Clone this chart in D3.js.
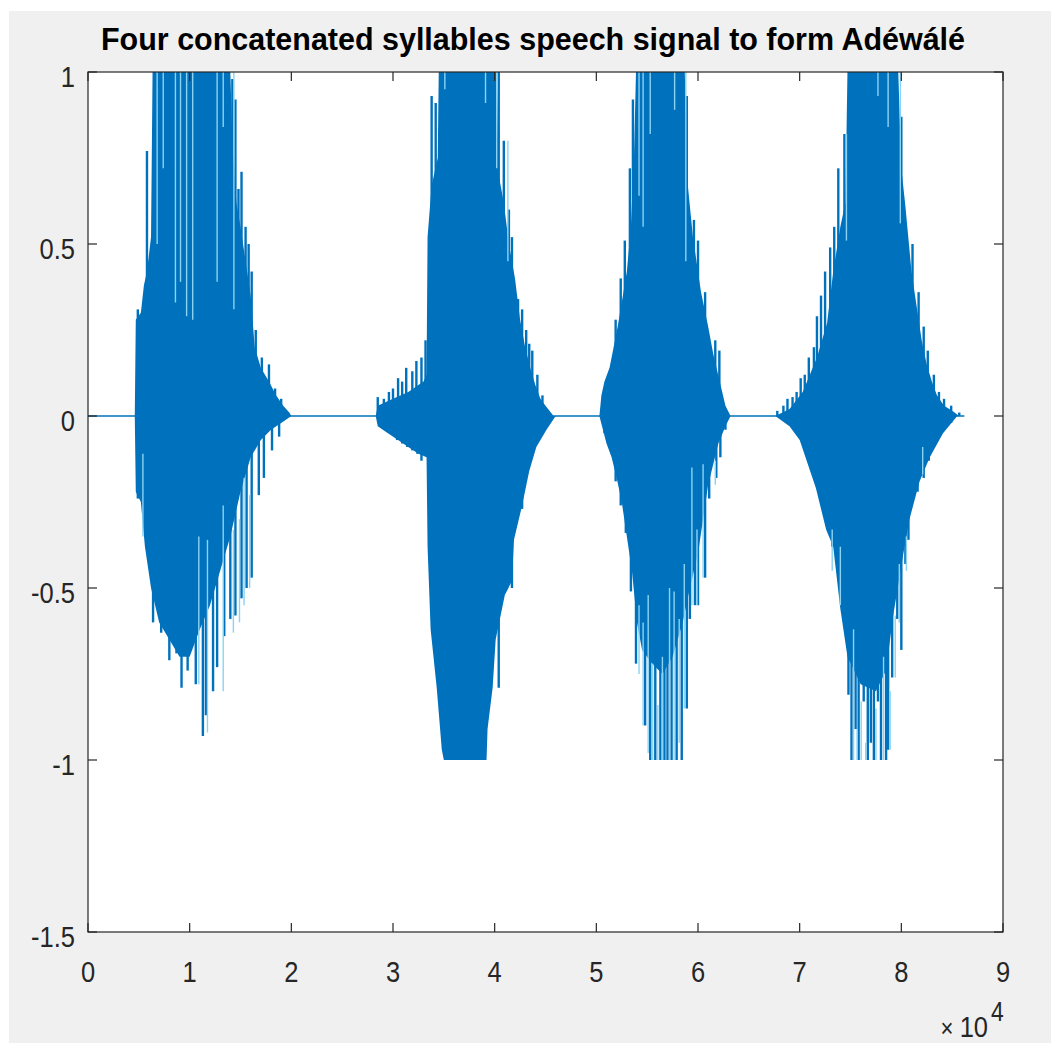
<!DOCTYPE html>
<html><head><meta charset="utf-8">
<script src="https://cdn.jsdelivr.net/npm/d3@7"></script>
<style>html,body{margin:0;padding:0;background:#fff;}svg{display:block;}</style>
</head><body>
<script>
// ---- data (x in units of 1e4 samples, y amplitude) ----
const titleText = "Four concatenated syllables speech signal to form Adéwálé";
const xTicks = [0,1,2,3,4,5,6,7,8,9];
const yTicks = [-1.5,-1,-0.5,0,0.5,1];
const yTickLabels = ["-1.5","-1","-0.5","0","0.5","1"];
const signalEnd = 8.62;

const bodyUpper = [[0,0],[0.46,0],[0.47,0.28],[0.52,0.30],[0.55,0.38],[0.58,0.42],[0.62,0.52],[0.635,1.0],[1.40,1.0],[1.42,0.80],[1.46,0.62],[1.50,0.55],[1.55,0.45],[1.60,0.35],[1.64,0.20],[1.70,0.14],[1.78,0.10],[1.85,0.06],[1.92,0.03],[1.98,0.01],[2.0,0],
[2.83,0],[2.85,0.03],[3.0,0.05],[3.15,0.07],[3.30,0.10],[3.33,0.12],[3.34,0.52],[3.38,0.67],[3.44,0.75],[3.45,1.0],[4.02,1.0],[4.04,0.70],[4.09,0.62],[4.14,0.50],[4.20,0.40],[4.25,0.28],[4.30,0.20],[4.35,0.14],[4.40,0.09],[4.45,0.05],[4.50,0.03],[4.58,0],
[5.03,0],[5.05,0.06],[5.08,0.10],[5.13,0.14],[5.17,0.20],[5.21,0.26],[5.25,0.33],[5.30,0.42],[5.34,0.55],[5.37,0.75],[5.39,1.0],[5.87,1.0],[5.90,0.67],[5.95,0.52],[6.03,0.36],[6.10,0.26],[6.15,0.18],[6.23,0.08],[6.27,0.03],[6.32,0],
[6.76,0],[6.90,0.02],[7.03,0.07],[7.17,0.17],[7.27,0.27],[7.33,0.42],[7.40,0.55],[7.45,0.62],[7.47,1.0],[7.97,1.0],[8.00,0.72],[8.04,0.61],[8.10,0.42],[8.15,0.32],[8.20,0.22],[8.25,0.15],[8.30,0.10],[8.35,0.06],[8.42,0.03],[8.50,0.015],[8.57,0]];

const bodyLower = [[0,0],[0.46,0],[0.47,-0.22],[0.52,-0.25],[0.56,-0.38],[0.62,-0.50],[0.70,-0.60],[0.80,-0.65],[0.90,-0.70],[1.0,-0.70],[1.10,-0.62],[1.20,-0.55],[1.30,-0.45],[1.40,-0.35],[1.50,-0.22],[1.60,-0.12],[1.70,-0.07],[1.80,-0.04],[1.90,-0.02],[2.0,0],
[2.83,0],[2.85,-0.03],[2.95,-0.05],[3.05,-0.07],[3.15,-0.09],[3.25,-0.11],[3.33,-0.12],[3.34,-0.38],[3.37,-0.62],[3.43,-0.79],[3.48,-0.97],[3.50,-1.0],[3.92,-1.0],[3.93,-0.91],[3.98,-0.79],[4.01,-0.65],[4.10,-0.52],[4.17,-0.48],[4.19,-0.36],[4.27,-0.26],[4.34,-0.16],[4.41,-0.09],[4.51,-0.04],[4.60,0],
[5.03,0],[5.10,-0.08],[5.15,-0.12],[5.20,-0.18],[5.25,-0.25],[5.30,-0.35],[5.35,-0.45],[5.40,-0.60],[5.45,-0.68],[5.55,-0.72],[5.65,-0.75],[5.75,-0.70],[5.85,-0.60],[5.92,-0.50],[6.00,-0.40],[6.05,-0.30],[6.10,-0.20],[6.15,-0.14],[6.20,-0.08],[6.27,-0.03],[6.32,0],
[6.76,0],[6.90,-0.03],[7.00,-0.07],[7.16,-0.21],[7.26,-0.33],[7.33,-0.38],[7.40,-0.56],[7.47,-0.70],[7.60,-0.78],[7.75,-0.80],[7.85,-0.74],[7.92,-0.58],[8.02,-0.40],[8.08,-0.30],[8.18,-0.19],[8.28,-0.12],[8.41,-0.05],[8.55,0]];

const spikesUp = [[0.49,0.31],[0.58,0.77],[0.61,0.45],[1.42,0.98],[1.45,0.92],[1.48,0.66],[1.51,0.71],[1.55,0.55],[1.58,0.50],[1.61,0.42],[1.65,0.25],[1.71,0.17],[1.78,0.15],[1.84,0.08],[1.90,0.05],
[2.85,0.055],[2.91,0.05],[2.96,0.07],[3.00,0.08],[3.05,0.11],[3.09,0.10],[3.13,0.14],[3.19,0.13],[3.23,0.16],[3.28,0.17],[3.32,0.22],
[3.38,0.93],[3.42,0.91],[4.04,1.0],[4.09,0.80],[4.14,0.60],[4.17,0.52],[4.23,0.34],[4.27,0.31],[4.31,0.25],[4.34,0.21],[4.37,0.19],[4.42,0.12],[4.47,0.06],
[5.19,0.28],[5.24,0.40],[5.28,0.51],[5.33,0.72],[5.36,0.92],[5.89,0.93],[5.96,0.57],[6.00,0.51],[6.07,0.36],[6.17,0.22],[6.21,0.19],
[6.78,0.015],[6.84,0.03],[6.88,0.05],[6.93,0.055],[6.97,0.07],[7.01,0.11],[7.05,0.12],[7.09,0.17],[7.14,0.20],[7.17,0.29],[7.21,0.35],[7.25,0.42],[7.30,0.49],[7.34,0.55],[7.38,0.72],[7.44,0.82],
[8.00,0.87],[8.11,0.50],[8.17,0.36],[8.22,0.26],[8.26,0.19],[8.32,0.12],[8.37,0.07],[8.42,0.05],[8.49,0.03],[8.57,0.01]];

const spikesDown = [[0.49,-0.24],[0.58,-0.38],[0.64,-0.60],[0.72,-0.63],[0.80,-0.71],[0.87,-0.69],[0.92,-0.79],[0.98,-0.74],[1.06,-0.78],[1.13,-0.93],[1.16,-0.87],[1.23,-0.80],[1.27,-0.73],[1.34,-0.64],[1.40,-0.59],[1.45,-0.58],[1.51,-0.53],[1.56,-0.50],[1.61,-0.47],[1.68,-0.23],[1.73,-0.18],[1.81,-0.10],[1.88,-0.06],
[2.88,-0.03],[2.95,-0.04],[2.99,-0.05],[3.04,-0.07],[3.09,-0.08],[3.14,-0.09],[3.19,-0.10],[3.24,-0.11],[3.28,-0.13],
[3.45,-0.77],[4.04,-0.79],[4.10,-0.51],[4.17,-0.50],[4.27,-0.27],
[5.08,-0.05],[5.15,-0.10],[5.19,-0.19],[5.24,-0.26],[5.29,-0.34],[5.34,-0.51],[5.39,-0.72],[5.43,-0.63],[5.48,-0.90],[5.53,-1.0],[5.58,-1.0],[5.63,-1.0],[5.67,-1.0],[5.70,-1.0],[5.74,-1.0],[5.79,-1.0],[5.84,-1.0],[5.89,-0.85],[5.92,-0.59],[5.97,-0.55],[6.00,-0.55],[6.07,-0.47],[6.11,-0.24],[6.18,-0.18],[6.22,-0.12],[6.27,-0.04],
[6.98,-0.05],[7.08,-0.08],[7.14,-0.15],[7.22,-0.23],[7.27,-0.28],[7.32,-0.38],[7.37,-0.40],[7.41,-0.49],[7.45,-0.58],[7.48,-0.81],[7.51,-1.0],[7.55,-0.91],[7.58,-1.0],[7.63,-0.83],[7.67,-1.0],[7.70,-0.95],[7.73,-1.0],[7.77,-0.83],[7.80,-1.0],[7.85,-1.0],[7.87,-0.97],[7.91,-0.76],[7.96,-0.59],[8.00,-0.68],[8.04,-0.43],[8.07,-0.36],[8.16,-0.22],[8.22,-0.18],[8.27,-0.13],[8.32,-0.09],[8.39,-0.05],[8.49,-0.02]];

// light anti-aliased gaps between pitch pulses: [x, yFrom, yTo]
const gapLines = [[0.68,1,0.50],[0.74,1,0.72],[0.86,1,0.33],[0.91,1,0.39],[0.97,1,0.29],[1.03,1,0.28],[1.27,1,0.39],[1.33,1,0.84],[1.435,1,0.31],
[0.54,-0.11,-0.35],[1.09,-0.35,-0.78],[1.175,-0.36,-0.92],[1.33,-0.26,-0.80],[1.43,-0.33,-0.63],[1.49,-0.30,-0.60],[1.535,-0.18,-0.55],[1.59,-0.23,-0.50],
[3.51,1,0.95],[3.91,1,0.91],[4.02,1,0.72],[4.13,0.8,0.45],
[5.42,1,0.64],[5.46,1,0.55],[5.53,1,0.82],[5.77,1,0.89],[5.88,1,0.45],
[5.42,-0.55,-0.75],[5.46,-0.60,-0.90],[5.51,-0.52,-0.98],[5.555,-0.72,-1],[5.605,-0.84,-1],[5.65,-0.70,-1],[5.72,-0.50,-1],[5.765,-0.51,-1],[5.815,-0.59,-0.95],[5.865,-0.43,-0.85],[5.94,-0.15,-0.55],[5.99,-0.33,-0.55],[6.05,-0.14,-0.47],[6.17,-0.13,-0.20],
[7.46,0.82,0.51],[7.77,1,0.93],[7.87,1,0.84],[7.99,1,0.56],
[7.32,-0.33,-0.45],[7.40,-0.38,-0.55],[7.53,-0.62,-1],[7.565,-0.91,-1],[7.605,-0.83,-1],[7.65,-0.95,-1],[7.75,-0.85,-1],[7.825,-0.70,-1],[7.89,-0.80,-0.97],[7.94,-0.58,-0.76],[7.98,-0.43,-0.60],[8.05,-0.35,-0.45],[8.21,-0.09,-0.17]];

// ---- layout ----
const W = 1051, H = 1048;
const plot = {left: 88, right: 1003, top: 72, bottom: 932};
const blue = "#0072bd", gapColor = "#8ad3f2", axisColor = "#262626", textColor = "#262626";
const font = "'Liberation Sans', Arial, Helvetica, sans-serif";

const svg = d3.select("body").append("svg").attr("width", W).attr("height", H);
svg.append("rect").attr("width", W).attr("height", H).attr("fill", "#ffffff");
svg.append("rect").attr("x", 9).attr("y", 11).attr("width", W - 9).attr("height", 1043 - 11).attr("fill", "#f0f0f0");
svg.append("rect").attr("x", plot.left).attr("y", plot.top)
  .attr("width", plot.right - plot.left).attr("height", plot.bottom - plot.top).attr("fill", "#ffffff");

const x = d3.scaleLinear().domain([0, 9]).range([plot.left, plot.right]);
const y = d3.scaleLinear().domain([-1.5, 1]).range([plot.bottom, plot.top]);

svg.append("defs").append("clipPath").attr("id", "clip").append("rect")
  .attr("x", plot.left).attr("y", plot.top - 1).attr("width", plot.right - plot.left).attr("height", plot.bottom - plot.top + 1);
const g = svg.append("g").attr("clip-path", "url(#clip)");

// baseline (silence)
g.append("line").attr("x1", x(0)).attr("x2", x(signalEnd)).attr("y1", y(0)).attr("y2", y(0))
  .attr("stroke", blue).attr("stroke-width", 1.6);

const areaUp = d3.area().x(d => x(d[0])).y0(y(0)).y1(d => y(d[1]));
const areaDn = d3.area().x(d => x(d[0])).y0(y(0)).y1(d => y(d[1]));
g.append("path").attr("d", areaUp(bodyUpper)).attr("fill", blue);
g.append("path").attr("d", areaDn(bodyLower)).attr("fill", blue);

g.selectAll("line.up").data(spikesUp).join("line").attr("class", "up")
  .attr("x1", d => x(d[0])).attr("x2", d => x(d[0])).attr("y1", y(0)).attr("y2", d => y(d[1]))
  .attr("stroke", blue).attr("stroke-width", 2.4);
g.selectAll("line.dn").data(spikesDown).join("line").attr("class", "dn")
  .attr("x1", d => x(d[0])).attr("x2", d => x(d[0])).attr("y1", y(0)).attr("y2", d => y(d[1]))
  .attr("stroke", blue).attr("stroke-width", 2.4);
g.selectAll("line.gap").data(gapLines).join("line").attr("class", "gap")
  .attr("x1", d => x(d[0])).attr("x2", d => x(d[0])).attr("y1", d => y(d[1])).attr("y2", d => y(d[2]))
  .attr("stroke", gapColor).attr("stroke-width", 1.4);

// axes box with inward ticks on all sides
const tickLen = 9;
const ax = svg.append("g").attr("stroke", axisColor).attr("stroke-width", 1.2).attr("fill", "none");
ax.append("rect").attr("x", plot.left).attr("y", plot.top)
  .attr("width", plot.right - plot.left).attr("height", plot.bottom - plot.top);
xTicks.forEach(t => {
  ax.append("line").attr("x1", x(t)).attr("x2", x(t)).attr("y1", plot.bottom).attr("y2", plot.bottom - tickLen);
  ax.append("line").attr("x1", x(t)).attr("x2", x(t)).attr("y1", plot.top).attr("y2", plot.top + tickLen);
});
yTicks.forEach(t => {
  ax.append("line").attr("x1", plot.left).attr("x2", plot.left + tickLen).attr("y1", y(t)).attr("y2", y(t));
  ax.append("line").attr("x1", plot.right).attr("x2", plot.right - tickLen).attr("y1", y(t)).attr("y2", y(t));
});

// tick labels (condensed like the reference)
const sx = 0.85;
svg.selectAll("text.xl").data(xTicks).join("text").attr("class", "xl")
  .attr("transform", d => `translate(${x(d)},982) scale(${sx},1)`)
  .attr("text-anchor", "middle").attr("font-family", font).attr("font-size", 30)
  .attr("fill", textColor).text(d => String(d));
svg.selectAll("text.yl").data(yTicks).join("text").attr("class", "yl")
  .attr("transform", d => `translate(75,${y(d) + 15}) scale(${sx},1)`)
  .attr("text-anchor", "end").attr("font-family", font).attr("font-size", 30)
  .attr("fill", textColor).text((d, i) => yTickLabels[i]);

// exponent label
svg.append("text").attr("transform", "translate(947,1037) scale(0.85,1)")
  .attr("text-anchor", "middle").attr("font-family", font).attr("font-size", 26).attr("fill", textColor).text("×");
svg.append("text").attr("transform", "translate(988,1037) scale(0.85,1)")
  .attr("text-anchor", "end").attr("font-family", font).attr("font-size", 30).attr("fill", textColor).text("10");
svg.append("text").attr("transform", "translate(991,1021) scale(0.85,1)")
  .attr("text-anchor", "start").attr("font-family", font).attr("font-size", 27).attr("fill", textColor).text("4");

// title
svg.append("text").attr("x", 533).attr("y", 50).attr("text-anchor", "middle")
  .attr("font-family", font).attr("font-weight", "bold").attr("font-size", 32)
  .attr("textLength", 864).attr("lengthAdjust", "spacingAndGlyphs")
  .attr("fill", "#000").text(titleText);
</script>
</body></html>
